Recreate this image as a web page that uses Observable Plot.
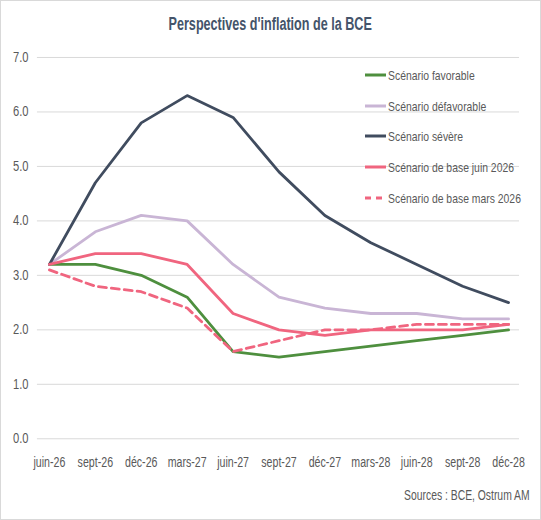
<!DOCTYPE html>
<html>
<head>
<meta charset="utf-8">
<script src="https://cdn.jsdelivr.net/npm/d3@7"></script>
<script src="https://cdn.jsdelivr.net/npm/@observablehq/plot@0.6"></script>
<style>
  html, body { margin: 0; padding: 0; background: #fff; }
  #wrap {
    position: relative; width: 539px; height: 518px;
    border: 1px solid #d9d9d9; background: #fff; overflow: hidden;
    font-family: "Liberation Sans", Arial, sans-serif;
  }
  #title {
    position: absolute; left: 0; width: 539px; top: 12px; text-align: center;
    font-weight: bold; font-size: 18px; color: #44546a; line-height: 22px;
  }
  #title span { display: inline-block; transform: scaleX(0.7); transform-origin: center; }
  #chart { position: absolute; left: -1px; top: 44px; }
  #caption {
    position: absolute; right: 10px; top: 486px; font-size: 14px; color: #595959; line-height: 16px;
  }
  #caption span { display: inline-block; transform: scaleX(0.74); transform-origin: right; }
  .leg { position: absolute; left: 364px; height: 16px; line-height: 16px; font-size: 13.5px; color: #595959; white-space: nowrap; }
  .leg svg { vertical-align: middle; margin-right: 2px; position: relative; top: -1px; }
  .leg span { display: inline-block; transform: scaleX(0.77); transform-origin: left; }
</style>
</head>
<body>
<div id="wrap">
  <div id="title"><span>Perspectives d'inflation de la BCE</span></div>
  <div id="chart"></div>
  <div id="legend"></div>
  <div id="caption"><span>Sources : BCE, Ostrum AM</span></div>
</div>
<script>
const months = ["juin-26","sept-26","déc-26","mars-27","juin-27","sept-27","déc-27","mars-28","juin-28","sept-28","déc-28"];
const favorable   = [3.2, 3.2, 3.0, 2.6, 1.6, 1.5, 1.6, 1.7, 1.8, 1.9, 2.0];
const defavorable = [3.2, 3.8, 4.1, 4.0, 3.2, 2.6, 2.4, 2.3, 2.3, 2.2, 2.2];
const severe      = [3.2, 4.7, 5.8, 6.3, 5.9, 4.9, 4.1, 3.6, 3.2, 2.8, 2.5];
const baseJuin    = [3.2, 3.4, 3.4, 3.2, 2.3, 2.0, 1.9, 2.0, 2.0, 2.0, 2.1];
const baseMars    = [3.1, 2.8, 2.7, 2.4, 1.6, 1.8, 2.0, 2.0, 2.1, 2.1, 2.1];
const yTicks = [0, 1, 2, 3, 4, 5, 6, 7];

const seriesNames = ["Scénario favorable","Scénario défavorable","Scénario sévère","Scénario de base juin 2026","Scénario de base mars 2026"];
const seriesValues = [favorable, defavorable, severe, baseJuin, baseMars];
const seriesColors = ["#4e8f3e", "#c9b5d5", "#404c5f", "#f0657f", "#f0657f"];
const seriesDash = [null, null, null, null, "8,5"];

const rows = [];
seriesNames.forEach((name, i) => {
  seriesValues[i].forEach((v, j) => rows.push({serie: name, mois: months[j], valeur: v}));
});

const lineMarks = seriesNames.map((name, i) =>
  Plot.line(rows.filter(d => d.serie === name), {
    x: "mois", y: "valeur",
    stroke: seriesColors[i], strokeWidth: 2.8,
    strokeDasharray: seriesDash[i] || undefined,
    strokeLinejoin: "round"
  })
);

const chart = Plot.plot({
  width: 541,
  height: 430,
  marginTop: 12,
  marginBottom: 36,
  marginLeft: 37,
  marginRight: 21,
  style: { fontFamily: '"Liberation Sans", Arial, sans-serif', fontSize: "14px", color: "#595959", background: "#fff" },
  x: { type: "point", domain: months, padding: 0.171, label: null },
  y: { domain: [0, 7], ticks: yTicks, label: null },
  marks: [
    Plot.ruleY(yTicks, { stroke: "#d9d9d9", strokeWidth: 1 }),
    Plot.axisY({ ticks: yTicks, tickSize: 0, tickPadding: 9, tickFormat: d => d.toFixed(1), fill: "#595959", label: null, fontSize: 14 }),
    Plot.axisX({ tickSize: 0, tickPadding: 18, fill: "#595959", label: null, fontSize: 14 }),
    ...lineMarks
  ]
});
// condensed look: narrow the tick labels horizontally around their anchor
chart.querySelectorAll('g[aria-label="x-axis tick label"] text').forEach(t => {
  t.setAttribute("transform", (t.getAttribute("transform") || "") + " scale(0.76,1)");
});
chart.querySelectorAll('g[aria-label="y-axis tick label"] text').forEach(t => {
  t.setAttribute("transform", (t.getAttribute("transform") || "") + " scale(0.8,1)");
});
document.getElementById("chart").appendChild(chart);

// legend
const legendTops = [67, 98, 128, 159, 190];
const legend = document.getElementById("legend");
seriesNames.forEach((name, i) => {
  const div = document.createElement("div");
  div.className = "leg";
  div.style.top = legendTops[i] + "px";
  const dash = seriesDash[i] ? ` stroke-dasharray="6,5"` : "";
  div.innerHTML = `<svg width="21" height="6"><line x1="0" y1="3" x2="21" y2="3" stroke="${seriesColors[i]}" stroke-width="3"${dash}/></svg><span>${name}</span>`;
  legend.appendChild(div);
});
</script>
</body>
</html>
